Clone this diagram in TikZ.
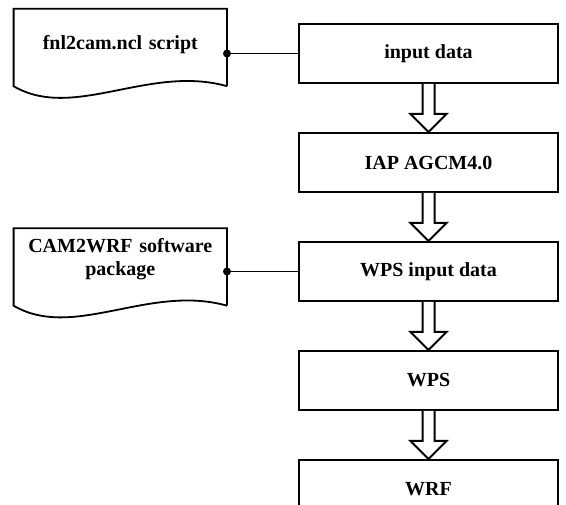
\documentclass[tikz,border=0pt]{standalone}
\usepackage{fontspec}
\setmainfont{Liberation Serif}
\usetikzlibrary{positioning}
\tikzstyle{block} = [rectangle,draw,line width=2pt,minimum width=259pt,
  minimum height=59pt,font=\fontsize{20pt}{23pt}\selectfont\bfseries]
\tikzstyle{doc} = [rectangle,minimum width=213pt,minimum height=77pt,
  text width=205pt,align=center,text depth=11pt,
  font=\fontsize{20pt}{23pt}\selectfont\bfseries]
\tikzstyle{hollow} = [draw,line width=2pt,fill=white,line join=miter]
\tikzstyle{joint} = [circle,fill=black,inner sep=0pt,minimum size=8pt]

\begin{document}
\begin{tikzpicture}[node distance=48pt]
\useasboundingbox (0,0) rectangle (566pt,-505pt);

% main chain
\node [block] (input) at (428.5pt,-53.5pt) {input data};
\node [block,below=of input] (iap) {IAP AGCM4.0};
\node [block,below=of iap] (wpsin) {WPS input data};
\node [block,below=of wpsin] (wps) {WPS};
\node [block,below=of wps] (wrf) {WRF};

% documents on the left
\node [doc,left=71pt of input,yshift=6pt] (script) {fnl2cam.ncl script};
\node [doc,left=71pt of wpsin,yshift=4.5pt,text depth=44pt] (cam) {CAM2WRF software\\package};

\foreach \d in {script,cam}
  \draw [line width=1.8pt] (\d.south east) -- (\d.north east) -- (\d.north west)
    -- (\d.south west) .. controls +(60pt,-35pt) and +(-78pt,22pt) .. (\d.south east);

\draw [line width=1.8pt] (input.west) -- (input.west -| script.east) node [joint] {};
\draw [line width=1.8pt] (wpsin.west) -- (wpsin.west -| cam.east) node [joint] {};

% hollow arrows
\foreach \a/\b in {input/iap,iap/wpsin,wpsin/wps,wps/wrf}
  \draw [hollow] (\a.south) ++(-6pt,0) -- ++(0,-30pt) -- ++(-12pt,0) -- (\b.north)
    -- ++(18pt,18pt) -- ++(-12pt,0) -- ++(0,30pt);
\end{tikzpicture}
\end{document}
